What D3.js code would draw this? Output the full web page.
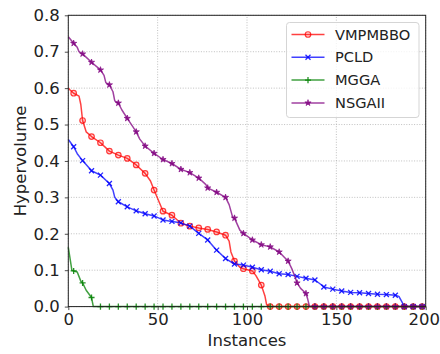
<!DOCTYPE html>
<html>
<head>
<meta charset="utf-8">
<script src="https://cdn.jsdelivr.net/npm/d3@7"></script>
<style>
  html, body { margin: 0; padding: 0; background: #fff; }
  svg { display: block; font-family: "DejaVu Sans", sans-serif; }
</style>
</head>
<body>
<svg id="chart" width="440" height="354"></svg>
<script>
// Hypervolume per instance, [instance, value]; markers sit on instances 3, 8, 13, ...
const vmpmbbo = [
  [0,0.600],[1,0.595],[3,0.586],[6,0.578],[7,0.555],[8,0.511],[10,0.480],[13,0.467],
  [18,0.450],[23,0.427],[28,0.416],[33,0.407],[38,0.389],[43,0.366],[46,0.345],[48,0.320],
  [51,0.285],[53,0.262],[58,0.251],[63,0.229],[68,0.221],[73,0.216],[78,0.212],[83,0.205],
  [88,0.196],[90,0.180],[91,0.150],[93,0.125],[96,0.108],[98,0.104],[103,0.098],[105,0.085],
  [108,0.059],[110,0.030],[111,0.005],[113,0],[118,0],[123,0],[128,0],[133,0],[138,0],
  [143,0],[148,0],[153,0],[158,0],[163,0],[168,0],[173,0],[178,0],[183,0],[188,0],[193,0],
  [198,0],[200,0]
];
const pcld = [
  [0,0.459],[3,0.439],[5,0.420],[8,0.401],[13,0.373],[18,0.361],[23,0.338],[25,0.320],
  [26,0.300],[28,0.288],[33,0.274],[38,0.263],[43,0.255],[48,0.249],[53,0.238],[58,0.234],
  [63,0.230],[68,0.221],[73,0.201],[78,0.183],[83,0.155],[88,0.132],[93,0.117],[98,0.114],
  [103,0.108],[108,0.101],[113,0.097],[118,0.090],[123,0.088],[128,0.083],[133,0.078],
  [138,0.073],[141,0.062],[143,0.054],[148,0.048],[153,0.043],[158,0.039],[163,0.038],
  [168,0.036],[173,0.034],[178,0.033],[183,0.031],[185,0.028],[187,0.010],[188,0],[193,0],
  [198,0],[200,0]
];
const mgga = [
  [0,0.163],[2,0.100],[3,0.098],[5,0.095],[7,0.070],[8,0.065],[10,0.045],[13,0.025],[14,0],
  [18,0],[23,0],[28,0],[33,0],[38,0],[43,0],[48,0],[53,0],[58,0],[63,0],[68,0],[73,0],
  [78,0],[83,0],[88,0],[93,0],[98,0],[103,0],[108,0],[113,0],[118,0],[123,0],[128,0],
  [133,0],[138,0],[143,0],[148,0],[153,0],[158,0],[163,0],[168,0],[173,0],[178,0],[183,0],
  [188,0],[193,0],[198,0],[200,0]
];
const nsgaii = [
  [0,0.741],[3,0.723],[5,0.712],[6,0.700],[8,0.694],[13,0.671],[18,0.650],[20,0.635],
  [21,0.615],[23,0.609],[25,0.590],[26,0.565],[28,0.559],[30,0.540],[33,0.517],[36,0.495],
  [38,0.480],[40,0.460],[43,0.441],[48,0.421],[53,0.404],[58,0.393],[63,0.377],[68,0.368],
  [73,0.353],[77,0.335],[78,0.326],[83,0.314],[88,0.300],[90,0.280],[92,0.245],[93,0.243],
  [96,0.210],[98,0.201],[103,0.183],[108,0.170],[113,0.164],[118,0.150],[121,0.135],
  [123,0.125],[125,0.105],[127,0.080],[128,0.065],[130,0.050],[133,0.036],[134,0.020],
  [135,0],[138,0],[143,0],[148,0],[153,0],[158,0],[163,0],[168,0],[173,0],[178,0],[183,0],
  [188,0],[193,0],[198,0],[200,0]
];

const seriesNames = ["VMPMBBO", "PCLD", "MGGA", "NSGAII"];
const seriesData = [vmpmbbo, pcld, mgga, nsgaii];
const seriesColors = ["#ff0000", "#0000ff", "#008000", "#800080"];
const seriesMarkers = ["circle", "cross", "plus", "star"];

const xTicks = [0, 50, 100, 150, 200];
const yTicks = [0, 0.1, 0.2, 0.3, 0.4, 0.5, 0.6, 0.7, 0.8];

const svg = d3.select("#chart");
const margin = { left: 68.3, right: 14.3, top: 15.3, bottom: 47.4 };
const W = 440, H = 354;

const x = d3.scaleLinear().domain([0, 200]).range([margin.left, W - margin.right]);
const y = d3.scaleLinear().domain([0, 0.8]).range([H - margin.bottom, margin.top]);

// grid
const grid = svg.append("g");
grid.selectAll("line.gx").data(xTicks).join("line")
  .attr("x1", d => x(d)).attr("x2", d => x(d))
  .attr("y1", y(0)).attr("y2", y(0.8))
  .attr("stroke", "#b0b0b0").attr("stroke-width", 0.8)
  .attr("stroke-dasharray", "1,1.6");
grid.selectAll("line.gy").data(yTicks).join("line")
  .attr("y1", d => y(d)).attr("y2", d => y(d))
  .attr("x1", x(0)).attr("x2", x(200))
  .attr("stroke", "#b0b0b0").attr("stroke-width", 0.8)
  .attr("stroke-dasharray", "1,1.6");

// marker path builders
function markerPath(kind) {
  if (kind === "circle") return d3.symbol(d3.symbolCircle, 24)();
  if (kind === "cross") return d3.symbol(d3.symbolTimes, 18)();
  if (kind === "plus") return d3.symbol(d3.symbolPlus, 14)();
  return d3.symbol(d3.symbolStar, 12)();
}
function styleMarker(sel, kind, color) {
  if (kind === "circle") {
    sel.attr("fill", color).attr("fill-opacity", 0.15)
      .attr("stroke", color).attr("stroke-width", 1.2).attr("stroke-opacity", 0.75);
  } else if (kind === "star") {
    sel.attr("fill", color).attr("fill-opacity", 0.8)
      .attr("stroke", color).attr("stroke-width", 0.8).attr("stroke-opacity", 0.8);
  } else {
    sel.attr("fill", "none").attr("stroke", color)
      .attr("stroke-width", 1.3).attr("stroke-opacity", 0.85);
  }
}

const line = d3.line().x(d => x(d[0])).y(d => y(d[1]));

seriesData.forEach((data, i) => {
  const g = svg.append("g");
  const color = seriesColors[i];
  g.append("path").datum(data)
    .attr("d", line)
    .attr("fill", "none")
    .attr("stroke", color)
    .attr("stroke-width", 1.5)
    .attr("stroke-opacity", 0.75)
    .attr("stroke-linejoin", "round");
  const marked = data.filter(d => d[0] % 5 === 3);
  const m = g.selectAll("path.mk").data(marked).join("path")
    .attr("class", "mk")
    .attr("d", markerPath(seriesMarkers[i]))
    .attr("transform", d => `translate(${x(d[0])},${y(d[1])})`);
  styleMarker(m, seriesMarkers[i], color);
});

// frame
svg.append("rect")
  .attr("x", x(0)).attr("y", y(0.8))
  .attr("width", x(200) - x(0)).attr("height", y(0) - y(0.8))
  .attr("fill", "none").attr("stroke", "#222").attr("stroke-width", 1);

// axes
const xAxis = svg.append("g")
  .attr("transform", `translate(0,${y(0)})`)
  .call(d3.axisBottom(x).tickValues(xTicks).tickFormat(d3.format("d")).tickSizeInner(3.5).tickSizeOuter(0).tickPadding(3.3));
const yAxis = svg.append("g")
  .attr("transform", `translate(${x(0)},0)`)
  .call(d3.axisLeft(y).tickValues(yTicks).tickFormat(d3.format(".1f")).tickSizeInner(3.5).tickSizeOuter(0).tickPadding(5));
[xAxis, yAxis].forEach(a => {
  a.select(".domain").remove();
  a.selectAll(".tick line").attr("stroke", "#222").attr("stroke-width", 0.8);
  a.selectAll(".tick text").attr("font-family", "DejaVu Sans").attr("font-size", 16.5).attr("fill", "#222");
});
// keep the last x label inside the page edge
xAxis.selectAll(".tick text").filter(d => d === 200).attr("dx", -2);

// axis titles
svg.append("text")
  .attr("x", (x(0) + x(200)) / 2).attr("y", 345.5)
  .attr("text-anchor", "middle")
  .attr("font-size", 16.5).attr("fill", "#222")
  .text("Instances");
svg.append("text")
  .attr("transform", `translate(25.5,${(y(0) + y(0.8)) / 2}) rotate(-90)`)
  .attr("text-anchor", "middle")
  .attr("font-size", 16.5).attr("fill", "#222")
  .text("Hypervolume");

// legend
const lg = svg.append("g").attr("transform", "translate(286.5,22.5)");
lg.append("rect")
  .attr("width", 132.5).attr("height", 95).attr("rx", 3)
  .attr("fill", "#fff").attr("fill-opacity", 0.8)
  .attr("stroke", "#d5d5d5").attr("stroke-width", 1);
seriesNames.forEach((name, i) => {
  const row = lg.append("g").attr("transform", `translate(0,${12 + i * 22.8})`);
  row.append("line")
    .attr("x1", 5).attr("x2", 38)
    .attr("stroke", seriesColors[i]).attr("stroke-width", 1.5).attr("stroke-opacity", 0.75);
  const mk = row.append("path")
    .attr("d", markerPath(seriesMarkers[i]))
    .attr("transform", "translate(21.5,0)");
  styleMarker(mk, seriesMarkers[i], seriesColors[i]);
  row.append("text")
    .attr("x", 48.5).attr("dy", "0.35em")
    .attr("font-size", 14.6).attr("fill", "#222")
    .text(name);
});
</script>
</body>
</html>
